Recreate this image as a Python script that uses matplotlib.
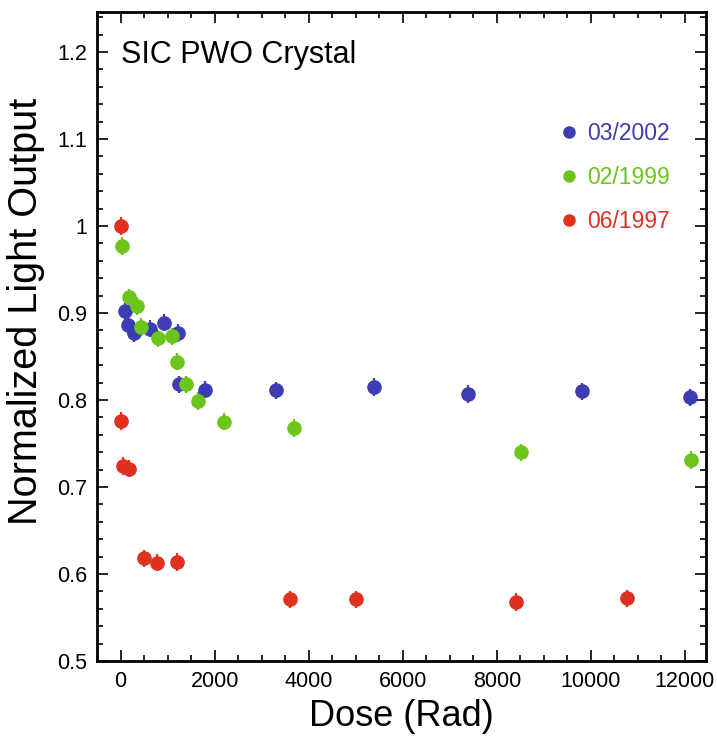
import numpy as np
import matplotlib
matplotlib.use('Agg')
import matplotlib.pyplot as plt
from matplotlib.lines import Line2D
from matplotlib.ticker import MultipleLocator

plt.rcParams['font.family'] = ['Liberation Sans', 'DejaVu Sans']

# -----------------------------------------------------------------------------
# light output vs. integrated dose, one series per measurement campaign

dose_1997 = [0, 20, 50, 190, 490, 780, 1200, 3600, 5000, 8400, 10780]
lo_1997 = [1.000, 0.776, 0.724, 0.721, 0.618, 0.613, 0.614, 0.571, 0.571,
           0.568, 0.572]

dose_1999 = [40, 190, 350, 445, 790, 1095, 1200, 1400, 1640, 2190, 3690,
             8520, 12120]
lo_1999 = [0.977, 0.918, 0.908, 0.884, 0.871, 0.873, 0.844, 0.818, 0.799,
           0.775, 0.768, 0.740, 0.731]

dose_2002 = [85, 155, 280, 620, 920, 1215, 1235, 1800, 3300, 5395, 7380,
             9820, 12110]
lo_2002 = [0.902, 0.886, 0.877, 0.882, 0.889, 0.877, 0.818, 0.812, 0.811,
           0.815, 0.807, 0.810, 0.803]

err = 0.010

labels = ['03/2002', '02/1999', '06/1997']
colors = ['#3d3db3', '#6cc51b', '#e0311f']

# -----------------------------------------------------------------------------

fig = plt.figure(figsize=(7.17, 7.36), dpi=100)
ax = fig.add_axes([0.1353, 0.1019, 0.8494, 0.8818])

series = [(dose_1997, lo_1997, colors[2]),
          (dose_2002, lo_2002, colors[0]),
          (dose_1999, lo_1999, colors[1])]

for x, y, c in series:
    ax.errorbar(x, y, yerr=err, fmt='o', color=c, ms=9.5, mec=c,
                elinewidth=1.6, capsize=0)

ax.set_xlim(-500, 12450)
ax.set_ylim(0.5, 1.246)

ax.xaxis.set_major_locator(MultipleLocator(2000))
ax.xaxis.set_minor_locator(MultipleLocator(500))
ax.yaxis.set_major_locator(MultipleLocator(0.1))
ax.yaxis.set_minor_locator(MultipleLocator(0.02))
ax.set_yticks(np.arange(0.5, 1.21, 0.1))
ax.set_yticklabels(['0.5', '0.6', '0.7', '0.8', '0.9', '1', '1.1', '1.2'])

ax.tick_params(which='both', direction='in', top=True, right=True,
               labelsize=15.5, width=1.2, pad=7)
ax.tick_params(which='major', length=8)
ax.tick_params(which='minor', length=4)
for s in ax.spines.values():
    s.set_linewidth(2)

ax.set_xlabel('Dose (Rad)', fontsize=26, labelpad=5)
ax.set_ylabel('Normalized Light Output', fontsize=28.5)
ax.yaxis.set_label_coords(-0.085, 0.538)

ax.text(0.04, 0.957, 'SIC PWO Crystal', transform=ax.transAxes,
        fontsize=22, va='top', ha='left')

handles = [Line2D([], [], ls='none', marker='o', ms=8, color=c)
           for c in colors]
ax.legend(handles, labels, loc='upper left', bbox_to_anchor=(0.7225, 0.863),
          frameon=False, fontsize=16.5, labelcolor=colors, handlelength=1,
          handletextpad=0.3, labelspacing=0.93)

fig.savefig('out.png', dpi=100)
